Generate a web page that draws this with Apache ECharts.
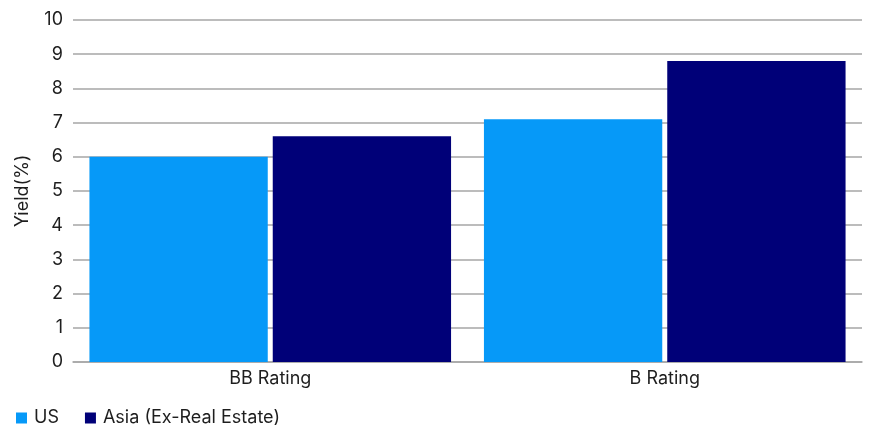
<!DOCTYPE html>
<html>
<head>
<meta charset="utf-8">
<script src="https://cdn.jsdelivr.net/npm/echarts@6/dist/echarts.min.js"></script>
<style>
  html, body { margin: 0; padding: 0; background: #fff; }
  #chart { width: 870px; height: 425px; }
</style>
</head>
<body>
<div id="chart"></div>
<script>
// Yield by credit rating
const categories = ['BB Rating', 'B Rating'];
const usYield = [6.0, 7.1];
const asiaYield = [6.6, 8.8];
const seriesNames = ['US', 'Asia (Ex-Real Estate)'];

const FONT = 'Inter, "Noto Sans", sans-serif';
const TEXT = '#1e1e1e';
const SIZE = 18;

const chart = echarts.init(document.getElementById('chart'), null, { renderer: 'canvas' });
chart.setOption({
  animation: false,
  textStyle: { fontFamily: FONT },
  grid: { left: 73, right: 8, top: 20, bottom: 63 },
  legend: {
    left: 11,
    top: 404,
    itemWidth: 11,
    itemHeight: 11,
    itemGap: 26,
    icon: 'rect',
    textStyle: { fontFamily: FONT, fontSize: SIZE, color: TEXT, padding: [0, 0, 0, 2] },
    data: seriesNames
  },
  xAxis: {
    type: 'category',
    data: categories,
    axisTick: { show: false },
    axisLine: { lineStyle: { color: '#a6a6a6', width: 1.5 } },
    axisLabel: { fontFamily: FONT, fontSize: SIZE, color: TEXT, margin: 8 }
  },
  yAxis: {
    type: 'value',
    min: 0,
    max: 10,
    interval: 1,
    name: 'Yield(%)',
    nameLocation: 'middle',
    nameGap: 41,
    nameTextStyle: { fontFamily: FONT, fontSize: SIZE, color: TEXT },
    axisLine: { show: false },
    axisTick: { show: false },
    axisLabel: { fontFamily: FONT, fontSize: SIZE, color: TEXT, margin: 10 },
    splitLine: { lineStyle: { color: '#a6a6a6', width: 1.5 } }
  },
  series: [
    {
      name: seriesNames[0],
      type: 'bar',
      data: usYield,
      barWidth: '45.2%',
      barGap: '2.8%',
      itemStyle: { color: '#0699F8' }
    },
    {
      name: seriesNames[1],
      type: 'bar',
      data: asiaYield,
      barWidth: '45.2%',
      barGap: '2.8%',
      itemStyle: { color: '#000078' }
    }
  ]
});
</script>
</body>
</html>
